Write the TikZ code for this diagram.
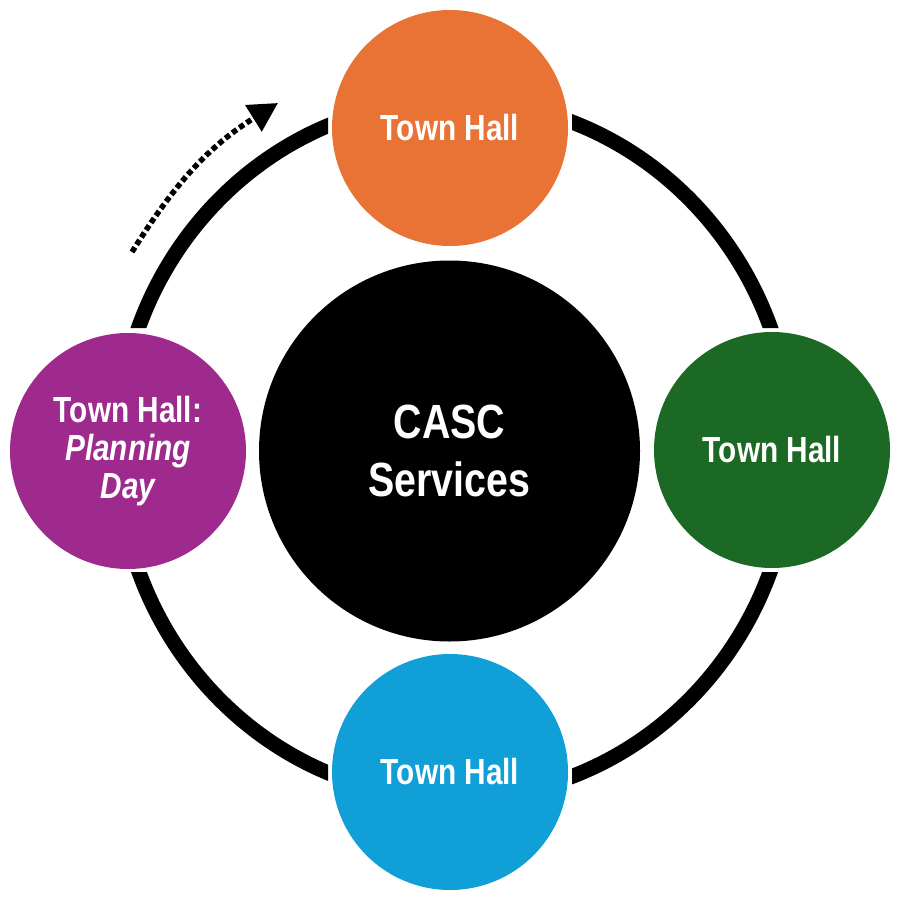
\documentclass[tikz,border=0pt]{standalone}
\usepackage{fontspec}
\newfontfamily\narrowfont[FakeStretch=0.82]{Liberation Sans}
\usetikzlibrary{arrows.meta}
\definecolor{cOrange}{RGB}{233,115,52}
\definecolor{cGreen}{RGB}{28,105,37}
\definecolor{cBlue}{RGB}{17,159,215}
\definecolor{cPurple}{RGB}{158,42,142}
\tikzset{
  hub/.style={circle, fill=black, minimum size=381pt, inner sep=0pt, text=white, align=center,
    font=\narrowfont\bfseries\fontsize{48}{58}\selectfont},
  spoke/.style={circle, minimum size=236pt, inner sep=0pt, text=white, align=center,
    font=\narrowfont\bfseries\fontsize{36.3}{38}\selectfont},
  ringline/.style={line width=15pt, draw=black},
  dotline/.style={line width=5.5pt, dash pattern=on 5.5pt off 3.2pt, line cap=butt}
}
\begin{document}
\begin{tikzpicture}[x=1pt,y=-1pt]
\useasboundingbox (0,0) rectangle (897,901);
% outer ring, cut near the four small circles
\begin{scope}
  \clip (0,0) rectangle (328,328) (572,0) rectangle (897,328)
        (0,572) rectangle (328,901) (572,572) rectangle (897,901);
  \draw[ringline] (454.5,449.25) ellipse [x radius=337, y radius=349];
\end{scope}
% circles
\node[hub] (casc) at (449.5,451) {CASC\\Services};
\node[spoke, fill=cOrange] (top) at (450,128) {Town Hall};
\node[spoke, fill=cGreen] (right) at (772,450) {Town Hall};
\node[spoke, fill=cBlue] (bottom) at (450,772) {Town Hall};
\node[spoke, fill=cPurple] (left) at (128,451) {Town Hall:\\\itshape Planning\\\itshape Day};
% dotted direction arrow
\coordinate (arrS) at (132,252);
\coordinate (arrE) at (278,103);
\draw[dotline, -{Triangle[length=29pt,width=30pt]}] (arrS) to[out=58,in=212] (arrE);
\end{tikzpicture}
\end{document}
